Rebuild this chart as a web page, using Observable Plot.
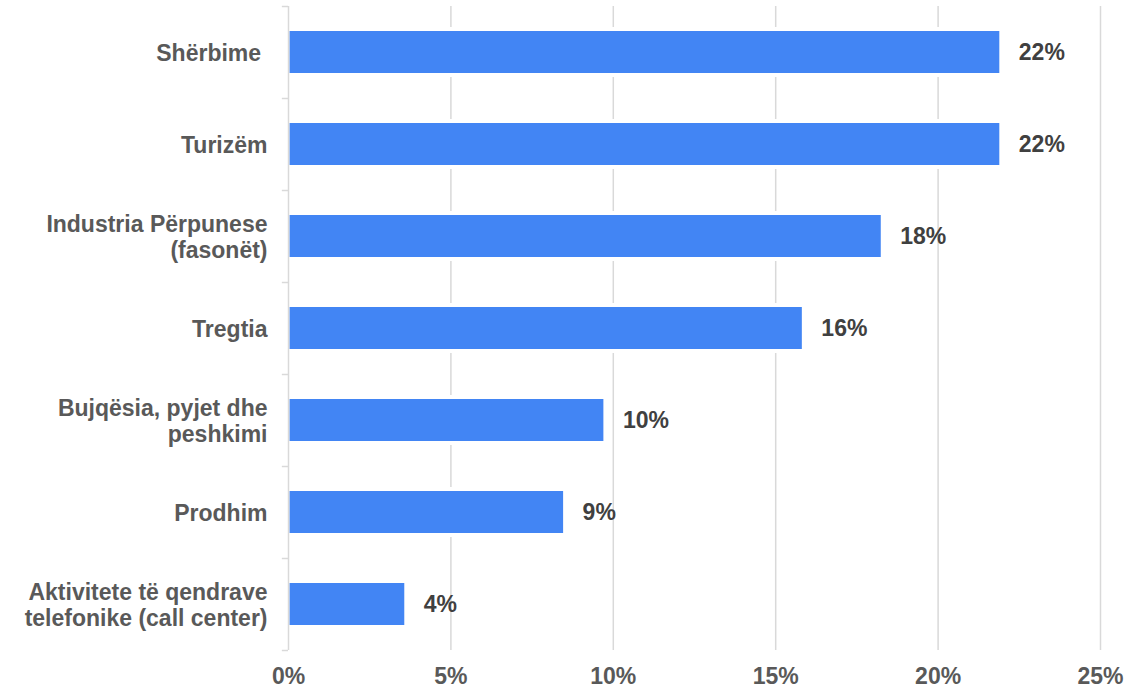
<!DOCTYPE html>
<html>
<head>
<meta charset="utf-8">
<script src="https://cdn.jsdelivr.net/npm/d3@7"></script>
<script src="https://cdn.jsdelivr.net/npm/@observablehq/plot@0.6"></script>
<style>
  html, body { margin: 0; padding: 0; background: #fff; }
</style>
</head>
<body>
<div id="chart"></div>
<script>
const categories = [
  "Shërbime\u00a0",
  "Turizëm",
  "Industria Përpunese\n(fasonët)",
  "Tregtia",
  "Bujqësia, pyjet dhe\npeshkimi",
  "Prodhim",
  "Aktivitete të qendrave\ntelefonike (call center)"
];
const values = [21.9, 21.9, 18.25, 15.82, 9.71, 8.47, 3.58];
const valueLabels = ["22%", "22%", "18%", "16%", "10%", "9%", "4%"];
const xTicks = [0, 5, 10, 15, 20, 25];

const data = categories.map((c, i) => ({cat: c, value: values[i], label: valueLabels[i]}));

const font = "'Liberation Sans', Arial, sans-serif";
const W = 1128, H = 691, mt = 6, mb = 41;
const halfStep = (H - mt - mb) / categories.length / 2;

const chart = Plot.plot({
  width: W,
  height: H,
  marginLeft: 288,
  marginRight: 28,
  marginTop: mt,
  marginBottom: mb,
  style: {fontFamily: font, fontWeight: "bold", background: "#fff"},
  x: {domain: [0, 25], label: null},
  y: {domain: categories, padding: 0, axis: null},
  marks: [
    Plot.gridX(xTicks.slice(1), {stroke: "#d9d9d9", strokeOpacity: 1, strokeWidth: 1.5}),
    Plot.barX(data, {x: "value", y: "cat", fill: "#ffffff", insetTop: 21, insetBottom: 21}),
    Plot.barX(data, {x: "value", y: "cat", fill: "#4285f4", insetTop: 25, insetBottom: 25, insetLeft: 1.5}),
    Plot.ruleX([0], {stroke: "#d9d9d9", strokeWidth: 1.5}),
    Plot.ruleY(categories, {y: d => d, x1: -0.19, x2: 0, dy: -halfStep, stroke: "#d9d9d9", strokeWidth: 1.5}),
    Plot.ruleY(categories.slice(-1), {y: d => d, x1: -0.19, x2: 0, dy: halfStep, stroke: "#d9d9d9", strokeWidth: 1.5}),
    Plot.text(data, {x: 0, y: "cat", text: "cat", textAnchor: "end", dx: -21, lineHeight: 1.13,
      fill: "#595959", fontSize: 23, fontWeight: "bold", fontFamily: font}),
    Plot.text(data, {x: "value", y: "cat", text: "label", textAnchor: "start", dx: 19,
      fill: "#404040", fontSize: 23, fontWeight: "bold", fontFamily: font}),
    Plot.axisX(xTicks, {tickSize: 0, tickPadding: 17, tickFormat: d => d + "%",
      fill: "#595959", fontSize: 23, fontWeight: "bold", fontFamily: font, label: null})
  ]
});
document.getElementById("chart").appendChild(chart);
</script>
</body>
</html>
